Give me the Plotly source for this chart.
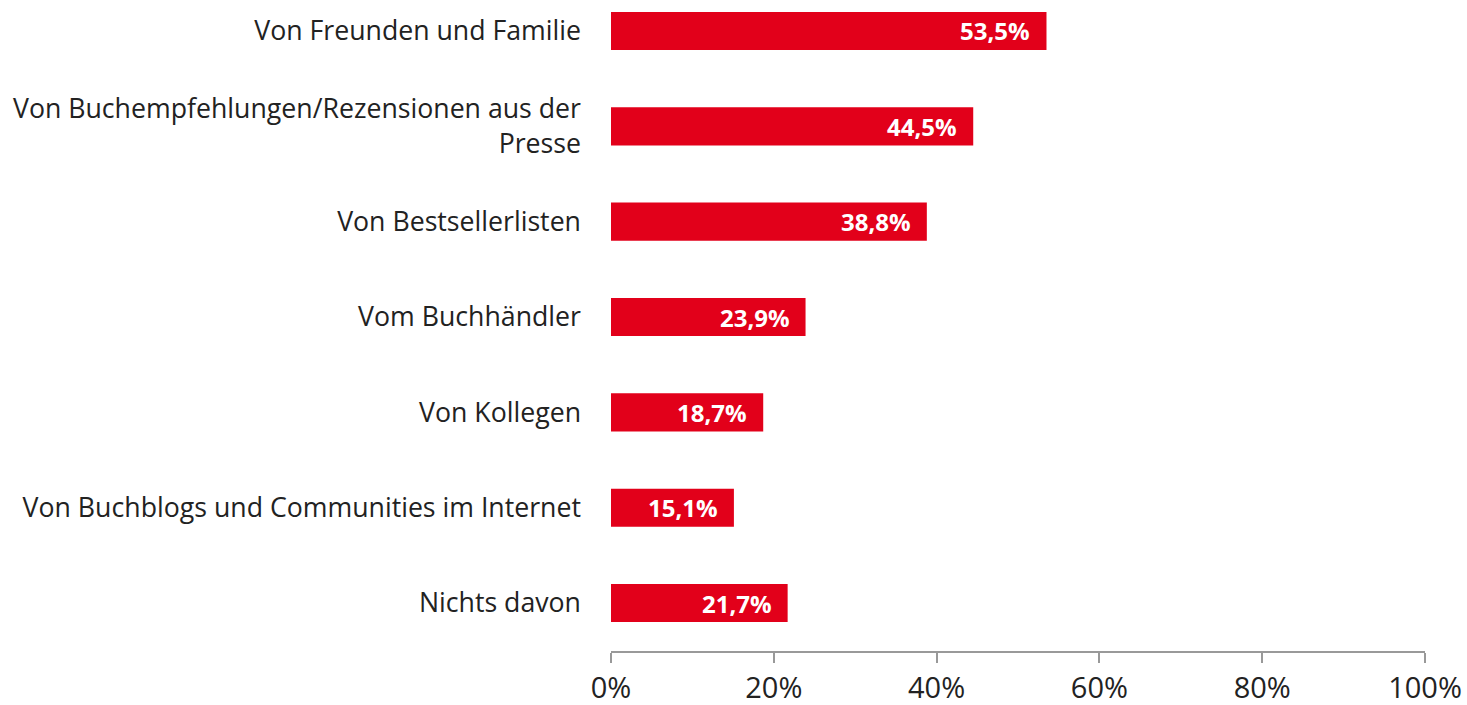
import plotly.graph_objects as go

categories = [
    "Von Freunden und Familie",
    "Von Buchempfehlungen/Rezensionen aus der<br>Presse",
    "Von Bestsellerlisten",
    "Vom Buchhändler",
    "Von Kollegen",
    "Von Buchblogs und Communities im Internet",
    "Nichts davon",
]
values = [53.5, 44.5, 38.8, 23.9, 18.7, 15.1, 21.7]
value_labels = ["53,5%", "44,5%", "38,8%", "23,9%", "18,7%", "15,1%", "21,7%"]
tick_vals = [0, 20, 40, 60, 80, 100]
tick_text = ["0%", "20%", "40%", "60%", "80%", "100%"]

RED = "#E2001A"
FONT = "Open Sans"

fig = go.Figure(go.Bar(
    x=values, y=categories, orientation="h",
    marker=dict(color=RED, line=dict(width=0)),
    width=0.4, hoverinfo="skip",
))

for c, v, t in zip(categories, values, value_labels):
    fig.add_annotation(x=v, y=c, text="<b>" + t + "</b>", showarrow=False, xanchor="right",
                       xshift=-14, font=dict(family=FONT, size=24, color="white"))

fig.update_layout(
    width=1467, height=705,
    margin=dict(l=611, r=42, t=0, b=54),
    plot_bgcolor="white", paper_bgcolor="white",
    showlegend=False,
    font=dict(family=FONT, color="#222222"),
)
fig.update_xaxes(range=[0, 100], tickvals=tick_vals, ticktext=tick_text,
                 showgrid=False, zeroline=False, showline=True, linecolor="#999999",
                 linewidth=1.5, ticks="outside", ticklen=10, tickcolor="#999999",
                 tickwidth=1.5, ticklabelstandoff=0, automargin=False,
                 tickfont=dict(size=29, family=FONT, color="#222222"))
fig.update_yaxes(categoryorder="array", categoryarray=categories,
                 range=[6.503, -0.325], autorange=False, automargin=False,
                 showgrid=False, zeroline=False, showline=False, ticks="",
                 ticklabelstandoff=29,
                 tickfont=dict(size=26.7, family=FONT, color="#222222"))

fig.write_html("out.html", config={"displayModeBar": False},
               post_script="document.body.style.margin='0';")
